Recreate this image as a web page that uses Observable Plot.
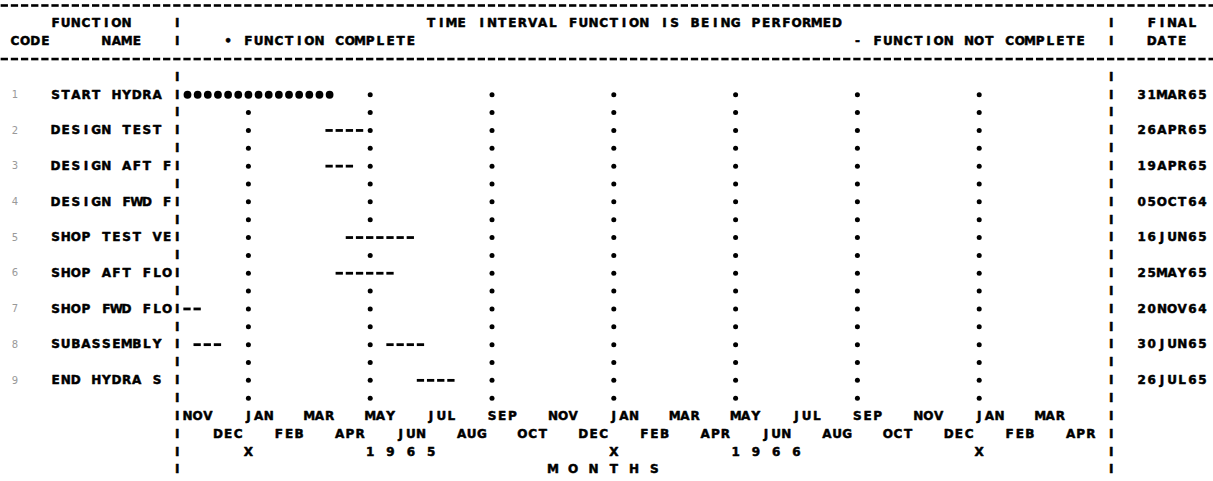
<!DOCTYPE html>
<html><head><meta charset="utf-8">
<script src="https://cdn.jsdelivr.net/npm/d3@7"></script>
<script src="https://cdn.jsdelivr.net/npm/@observablehq/plot@0.6"></script>
<style>body{margin:0;background:#fff}</style>
</head><body><div id="chart"></div>
<script>
// ---- data ----
const codes = ["1","2","3","4","5","6","7","8","9"];
const names = ["START HYDRA","DESIGN TEST","DESIGN AFT F","DESIGN FWD F","SHOP TEST VE","SHOP AFT FLO","SHOP FWD FLO","SUBASSEMBLY","END HYDRA S"];
const finalDates = ["31MAR65","26APR65","19APR65","05OCT64","16JUN65","25MAY65","20NOV64","30JUN65","26JUL65"];
// bar segments (task index, status, start, end)
const segTask   = [0, 1, 2, 4, 5, 6, 7, 7, 8];
const segStatus = ["complete","open","open","open","open","open","open","open","open"];
const segStart  = ["01NOV64","21MAR65","21MAR65","11APR65","01APR65","01NOV64","11NOV64","21MAY65","21JUN65"];
const segEnd    = ["31MAR65","26APR65","19APR65","16JUN65","25MAY65","20NOV64","10DEC64","30JUN65","26JUL65"];
// time axis
const monthTicks = ["NOV","DEC","JAN","FEB","MAR","APR","MAY","JUN","JUL","AUG","SEP","OCT",
                    "NOV","DEC","JAN","FEB","MAR","APR","MAY","JUN","JUL","AUG","SEP","OCT",
                    "NOV","DEC","JAN","FEB","MAR","APR"];
const gridMonths = ["01JAN65","01MAY65","01SEP65","01JAN66","01MAY66","01SEP66","01JAN67"];
const yearBreaks = ["01JAN65","01JAN66","01JAN67"];
const yearLabels = ["1 9 6 5","1 9 6 6"];
const yearLabelAt = ["01MAY65","01MAY66"];
const axisTitle = "M O N T H S";
// header texts
const hdrFunction = "FUNCTION", hdrCode = "CODE", hdrName = "NAME";
const hdrTitle = "TIME INTERVAL FUNCTION IS BEING PERFORMED";
const hdrDone = "\u2022 FUNCTION COMPLETE", hdrOpen = "- FUNCTION NOT COMPLETE";
const hdrFinal = "FINAL", hdrDate = "DATE";

// ---- character grid layout ----
const MON = ["JAN","FEB","MAR","APR","MAY","JUN","JUL","AUG","SEP","OCT","NOV","DEC"];
const C0 = 18, LEFT_BAR = 17, RIGHT_BAR = 109, DATE_COL = 112, NAME_COL = 5, CODE_COL = 1;
function dateCol(s) {
  const day = +s.slice(0,2), mon = MON.indexOf(s.slice(2,5)), yr = +s.slice(5,7);
  const mi = (yr - 64) * 12 + mon - 10;
  return C0 + 3 * mi + Math.min(2, Math.floor((day - 1) / 10));
}
const taskLine = i => 5 + 2 * i;

const cells = [];
function put(str, col, line, extra = {}) {
  [...str].forEach((ch, j) => { if (ch !== " ") cells.push({c: col + j, k: line, ch, ...extra}); });
}
// header
put(hdrFunction, 5, 1); put(hdrCode, 1, 2); put(hdrName, 10, 2);
put(hdrTitle, 42, 1); put(hdrDone, 22, 2); put(hdrOpen, 84, 2);
put(hdrFinal, 113, 1); put(hdrDate, 113, 2);
// borders
for (let k = 1; k <= 26; k++) if (k !== 3) { put("I", LEFT_BAR, k); put("I", RIGHT_BAR, k); }
// task rows
names.forEach((n, i) => {
  put(codes[i], CODE_COL, taskLine(i), {faint: true});
  put(n, NAME_COL, taskLine(i));
  put(finalDates[i], DATE_COL, taskLine(i));
});
// month ticks
monthTicks.forEach((m, i) => put(m, C0 + 3 * i, i % 2 === 0 ? 23 : 24));
yearBreaks.forEach(d => put("X", dateCol(d), 25));
yearLabels.forEach((y, i) => put(y, dateCol(yearLabelAt[i]), 25));
put(axisTitle, 54, 26);

const textCells = cells.filter(d => !d.faint);
const faintCells = cells.filter(d => d.faint);

// bars expanded per character column
const doneCells = [], openCells = [];
segTask.forEach((t, s) => {
  for (let c = dateCol(segStart[s]); c <= dateCol(segEnd[s]); c++) {
    (segStatus[s] === "complete" ? doneCells : openCells).push({c, k: taskLine(t)});
  }
});
const occupied = new Set([...doneCells, ...openCells].map(d => d.c + "," + d.k));
const gridDots = [];
gridMonths.forEach(d => { const c = dateCol(d); for (let k = 5; k <= 22; k++) if (!occupied.has(c + "," + k)) gridDots.push({c, k}); });
// printed dashed separator lines
const sepCells = [];
[0, 3].forEach(k => { for (let c = 0; c <= 119; c++) sepCells.push({c, k}); });

const W = 1213, H = 481, PX = 10.15, X0 = 4.3, PY = 17.85, Y0 = 5;
const font = {fontFamily: "DejaVu Sans", fontWeight: "bold", fontSize: 12, textAnchor: "middle", lineAnchor: "middle",
              fill: "#000", stroke: "#000", strokeWidth: 0.5};
const chart = Plot.plot({
  width: W, height: H, margin: 0,
  x: {type: "linear", domain: [-X0 / PX, (W - X0) / PX], range: [0, W], axis: null},
  y: {type: "linear", domain: [-Y0 / PY, (H - Y0) / PY], range: [0, H], axis: null},
  marks: [
    Plot.ruleY(sepCells, {y: "k", x1: d => d.c - 0.36, x2: d => d.c + 0.36, stroke: "#000", strokeWidth: 2.6}),
    Plot.ruleY(openCells, {y: "k", x1: d => d.c - 0.36, x2: d => d.c + 0.36, stroke: "#000", strokeWidth: 2.8}),
    Plot.dot(doneCells, {x: "c", y: "k", r: 3.9, fill: "#000", stroke: "none"}),
    Plot.dot(gridDots, {x: "c", y: "k", r: 2.5, fill: "#000", stroke: "none"}),
    Plot.text(textCells, {x: "c", y: "k", text: "ch", ...font}),
    Plot.text(faintCells, {x: "c", y: "k", text: "ch", ...font, fill: "#999", stroke: "none", fontWeight: "normal", fontSize: 10})
  ]
});
document.getElementById("chart").append(chart);
</script>
</body></html>
